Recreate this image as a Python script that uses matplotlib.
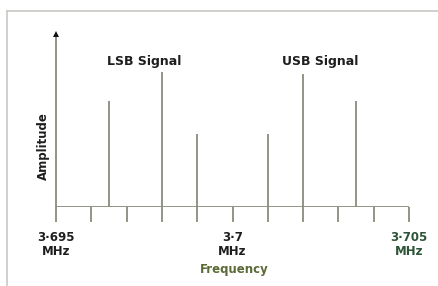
"""Sideband spectrum sketch: LSB and USB lines around a 3.7 MHz carrier."""

import matplotlib

matplotlib.use("Agg")
import matplotlib.pyplot as plt
from matplotlib.lines import Line2D

# spectral lines (MHz) and their relative amplitudes
line_freqs = [3.6965, 3.698, 3.699, 3.701, 3.702, 3.7035]
line_amps = [0.60, 0.76, 0.41, 0.41, 0.75, 0.60]

tick_freqs = [3.695 + 0.001 * i for i in range(11)]
label_freqs = [3.695, 3.700, 3.705]
label_texts = ["3·695\nMHz", "3·7\nMHz", "3·705\nMHz"]
label_colors = ["#1e1e1e", "#1e1e1e", "#2c5436"]

band_labels = ["LSB Signal", "USB Signal"]
band_label_freqs = [3.69749, 3.70248]

W, H = 439, 286
fig = plt.figure(figsize=(W / 100, H / 100), dpi=100)
fig.patch.set_facecolor("white")

# outer frame (left and top edges only, as in the scan)
fig.add_artist(Line2D([7 / W, 7 / W], [0, 1 - 11 / H], color="#c8c8c4", lw=1.2))
fig.add_artist(Line2D([7 / W, 1], [1 - 11 / H, 1 - 11 / H], color="#c8c8c4", lw=1.2))

# axes: x=3.695 at px 56, 3.705 at px 409; baseline at px 207
ax = fig.add_axes([56 / W, 79 / H, 353 / W, 177 / H])
ax.set_xlim(3.695, 3.705)
ax.set_ylim(0, 1)
ax.axis("off")

line_col = "#8a8a7e"
ax.vlines(line_freqs, 0, line_amps, color=line_col, lw=1.3)
ax.axhline(0, color=line_col, lw=1.3)

# amplitude axis with a black arrow head
ax.vlines(3.695, 0, 0.97, color=line_col, lw=1.3, clip_on=False)
ax.plot([3.695], [0.975], marker="^", markersize=5, color="#111111",
        markeredgewidth=0, clip_on=False)

# frequency ticks below the baseline
ax.vlines(tick_freqs, -0.085, 0, color=line_col, lw=1.3, clip_on=False)

font = dict(family="DejaVu Sans", fontweight="bold")
for f, t, c in zip(label_freqs, label_texts, label_colors):
    ax.text(f, -0.135, t, ha="center", va="top", fontsize=8.5, color=c,
            linespacing=1.15, clip_on=False, **font)

for f, t in zip(band_label_freqs, band_labels):
    ax.text(f, 0.82, t, ha="center", va="center", fontsize=9,
            color="#1e1e1e", **font)

ax.text(3.70005, -0.355, "Frequency", ha="center", va="center", fontsize=8.5,
        color="#5b6a36", clip_on=False, **font)
ax.text(-0.036, 0.345, "Amplitude", ha="center", va="center", rotation=90,
        fontsize=8.5, color="#1e1e1e", transform=ax.transAxes, **font)

fig.savefig("out.png", dpi=100)
